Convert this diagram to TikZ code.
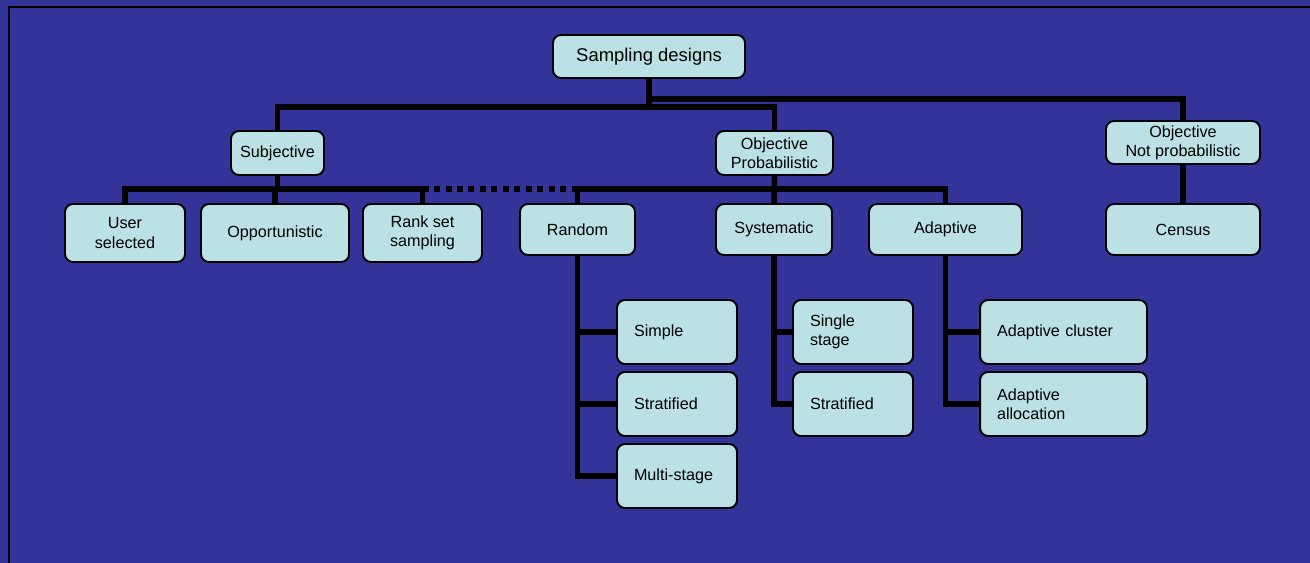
\documentclass[tikz,border=0pt]{standalone}
\usepackage{fontspec}
\setmainfont{Liberation Sans}
\definecolor{sfondo}{RGB}{51,51,153}
\definecolor{azzurro}{RGB}{187,225,228}

\begin{document}
\begin{tikzpicture}[
			x=0.02cm, y=-0.02cm,
			ramo/.style={line width=0.11cm, black},
			ramopunt/.style={line width=0.11cm, black,
				dash pattern=on 0.12cm off 0.11cm},
			cornice/.style={line width=0.04cm, black},
			casella/.style={draw=black, fill=azzurro,
				rounded corners=0.16cm, line width=1.1pt,
				align=center, inner sep=0pt,
				font=\fontsize{9.2}{11}\selectfont},
			dim/.style 2 args={minimum width=#1*0.02cm,
				minimum height=#2*0.02cm},
			foglia/.style={casella, align=left, inner xsep=0.34cm,
				minimum height=1.28cm},
			]
			\useasboundingbox (0,0) rectangle (1310,563);
			\fill[sfondo] (0,0) rectangle (1310,563);
			\draw[cornice] (9,563) -- (9,7) -- (1310,7);
			
			% radice
			\node[casella, dim={192}{43}, font=\fontsize{10.5}{12}\selectfont]
				(radice) at (649,56.5) {Sampling designs};
			
			% primo livello
			\node[casella, dim={93}{44}]  (sogg)      at (277.5,153) {Subjective};
			\node[casella, dim={117}{44}] (ogprob)    at (774.5,153) {Objective\\Probabilistic};
			\node[casella, dim={154}{43}] (ognonprob) at (1183,142.5) {Objective\\Not probabilistic};
			
			% secondo livello
			\node[casella, dim={120}{58}] (utente)  at (125,233)     {User\\selected};
			\node[casella, dim={148}{58}] (opport)  at (275,233)     {Opportunistic};
			\node[casella, dim={119}{58}] (rango)   at (422.5,233)   {Rank set\\sampling};
			\node[casella, dim={115}{51}] (casuale) at (577.5,229.5) {Random};
			\node[casella, dim={116}{51}] (sistem)  at (774,229.5)   {Systematic};
			\node[casella, dim={153}{51}] (adatt)   at (945.5,229.5) {Adaptive};
			\node[casella, dim={154}{51}] (censim)  at (1183,229.5)  {Census};
			
			% terzo livello (testo a sinistra)
			\node[foglia, text width=1.72cm] (semplice)    at (677,332)    {Simple};
			\node[foglia, text width=1.72cm] (strat)       at (677,404)    {Stratified};
			\node[foglia, text width=1.72cm] (multistadio) at (677,476)    {Multi-stage};
			\node[foglia, text width=1.72cm] (singolo)     at (853,332)    {Single\\stage};
			\node[foglia, text width=1.72cm] (stratsis)    at (853,404)    {Stratified};
			\node[foglia, text width=2.66cm] (cluster)     at (1063.5,332) {Adaptive cluster};
			\node[foglia, text width=2.66cm] (allocaz)     at (1063.5,404) {Adaptive\\allocation};
			
			% rami dalla radice
			\coordinate (snodoA) at (649,99);
			\coordinate (snodoB) at (649,107);
			\draw[ramo] (radice.south) -- (snodoB);
			\draw[ramo] (snodoA) -| (ognonprob.north);
			\draw[ramo] (sogg.north) |- (snodoB) -| (ogprob.north);
			
			% rami verso il secondo livello
			\coordinate (busS) at (277.5,189);
			\coordinate (busO) at (774.5,189);
			\draw[ramopunt] (rango.north |- busS) -- (casuale.north |- busS);
			\draw[ramo] (sogg.south) -- (busS);
			\draw[ramo] (utente.north) |- (busS) -| (rango.north);
			\draw[ramo] (opport.north) -- (opport.north |- busS);
			\draw[ramo] (ogprob.south) -- (sistem.north);
			\draw[ramo] (casuale.north) |- (busO) -| (adatt.north);
			\draw[ramo] (ognonprob.south) -- (censim.north);
			
			% rami verso il terzo livello
			\foreach \f in {semplice,strat,multistadio}
				\draw[ramo] (casuale.south) |- (\f.west);
			\foreach \f in {singolo,stratsis}
				\draw[ramo] (sistem.south) |- (\f.west);
			\foreach \f in {cluster,allocaz}
				\draw[ramo] (adatt.south) |- (\f.west);
			
		\end{tikzpicture}
\end{document}
